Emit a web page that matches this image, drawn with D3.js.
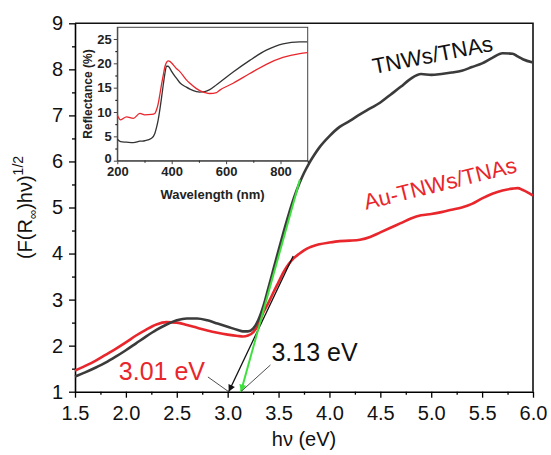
<!DOCTYPE html>
<html>
<head>
<meta charset="utf-8">
<script src="https://cdn.jsdelivr.net/npm/d3@7"></script>
<style>
  body { margin: 0; background: #fff; }
  svg { display: block; font-family: "Liberation Sans", Arial, sans-serif; }
</style>
</head>
<body>
<svg width="551" height="455"></svg>
<script>
// main plot: Tauc-style curves
const energy = [1.5, 1.6, 1.7, 1.8, 1.9, 2.0, 2.1, 2.2, 2.3, 2.4, 2.5, 2.6, 2.7, 2.8, 2.9, 3.0, 3.1, 3.15, 3.2, 3.25, 3.3,
  3.35, 3.4, 3.45, 3.5, 3.55, 3.6, 3.65, 3.7, 3.75, 3.8, 3.85, 3.9, 4.0, 4.1, 4.2, 4.3, 4.4, 4.5, 4.6, 4.7, 4.8,
  4.9, 5.0, 5.1, 5.2, 5.3, 5.4, 5.5, 5.6, 5.7, 5.8, 5.85, 5.9, 6.0];
const tnws = [1.33, 1.42, 1.52, 1.63, 1.76, 1.9, 2.05, 2.2, 2.34, 2.46, 2.55, 2.59, 2.59, 2.55, 2.48, 2.41, 2.34, 2.31, 2.31, 2.37, 2.55,
  2.85, 3.25, 3.66, 4.07, 4.47, 4.85, 5.2, 5.5, 5.75, 5.96, 6.14, 6.3, 6.55, 6.75, 6.88, 7.02, 7.15, 7.28, 7.45, 7.62, 7.8,
  7.9, 7.88, 7.9, 7.93, 7.97, 8.05, 8.13, 8.25, 8.35, 8.34, 8.28, 8.22, 8.15];
const auTnws = [1.46, 1.56, 1.67, 1.8, 1.93, 2.07, 2.22, 2.35, 2.46, 2.51, 2.5, 2.45, 2.39, 2.33, 2.28, 2.24, 2.21, 2.2, 2.22, 2.29, 2.45,
  2.72, 2.93, 3.16, 3.38, 3.6, 3.77, 3.9, 3.99, 4.07, 4.13, 4.17, 4.2, 4.24, 4.27, 4.28, 4.3, 4.36, 4.46, 4.56, 4.66, 4.76,
  4.83, 4.86, 4.9, 4.95, 5.0, 5.08, 5.2, 5.3, 5.37, 5.41, 5.42, 5.38, 5.26];

// tangent fits [x, y] ends, band gaps
const tangentTnws = [[3.13, 1], [3.71, 5.61]];
const tangentAu = [[3.01, 1], [3.644, 3.947]];

const xTicks = [1.5, 2.0, 2.5, 3.0, 3.5, 4.0, 4.5, 5.0, 5.5, 6.0];
const yTicks = [1, 2, 3, 4, 5, 6, 7, 8, 9];

// inset: reflectance spectra
const wavelength = [200, 212, 234, 259, 283, 301, 326, 338, 344, 350, 357, 363, 369, 375, 381, 387, 393, 399, 418, 430,
  454, 467, 491, 503, 522, 540, 565, 577, 626, 687, 748, 809, 871, 898];
const reflTnws = [4.4, 3.9, 3.8, 3.7, 4.0, 4.1, 4.6, 5.6, 6.8, 8.3, 10.7, 13.1, 15.6, 17.9, 19.4, 19.4, 19.0, 18.4, 16.9, 16.0,
  15.1, 14.7, 14.2, 14.1, 14.2, 14.6, 15.6, 16.1, 18.2, 20.6, 22.7, 24.0, 24.4, 24.4];
const reflAu = [9.4, 8.4, 9.0, 8.7, 9.7, 9.4, 9.5, 9.7, 10.4, 11.6, 13.8, 15.8, 17.6, 19.3, 20.2, 20.5, 20.4, 20.1, 18.9, 18.3,
  16.6, 15.9, 14.8, 14.4, 14.0, 13.8, 14.0, 14.5, 15.9, 17.9, 19.8, 21.2, 22.0, 22.2];
const insetXTicks = [200, 400, 600, 800];
const insetYTicks = [0, 5, 10, 15, 20, 25];

const svg = d3.select("svg");
const black = "#3b3b3b";
const red = "#e8262b";
const green = "#3ee03e";

const x = d3.scaleLinear().domain([1.5, 6]).range([75, 533]);
const y = d3.scaleLinear().domain([1, 9]).range([391.7, 23.3]);

// minor ticks first, then major ticks with labels
const minorX = d3.range(1.75, 6, 0.5);
const minorY = d3.range(1.5, 9, 1);

svg.append("g")
  .attr("transform", `translate(0,${y(1)})`)
  .call(d3.axisBottom(x).tickValues(minorX).tickSize(3).tickFormat(""))
  .call(g => g.select(".domain").remove())
  .selectAll("line").attr("stroke-width", 1.3);

svg.append("g")
  .attr("transform", `translate(${x(1.5)},0)`)
  .call(d3.axisLeft(y).tickValues(minorY).tickSize(3).tickFormat(""))
  .call(g => g.select(".domain").remove())
  .selectAll("line").attr("stroke-width", 1.3);

const xAxis = svg.append("g")
  .attr("transform", `translate(0,${y(1)})`)
  .call(d3.axisBottom(x).tickValues(xTicks).tickSize(6).tickSizeOuter(0).tickPadding(8).tickFormat(d3.format(".1f")));
xAxis.selectAll("text").attr("font-size", 20).attr("fill", "#111").attr("font-family", "Liberation Sans, Arial, sans-serif");

const yAxis = svg.append("g")
  .attr("transform", `translate(${x(1.5)},0)`)
  .call(d3.axisLeft(y).tickValues(yTicks).tickSize(6).tickSizeOuter(0).tickPadding(6).tickFormat(d3.format("d")));
yAxis.selectAll("text").attr("font-size", 20).attr("fill", "#111").attr("font-family", "Liberation Sans, Arial, sans-serif");

[xAxis, yAxis].forEach(a => {
  a.selectAll("line").attr("stroke-width", 1.3);
  a.select(".domain").attr("stroke-width", 1.6);
});

// frame on top and right
svg.append("path")
  .attr("d", `M${x(1.5)},${y(9)}H${x(6)}V${y(1)}`)
  .attr("fill", "none")
  .attr("stroke", "#111")
  .attr("stroke-width", 1.6);

// axis titles
svg.append("text")
  .attr("x", (x(1.5) + x(6)) / 2)
  .attr("y", 446)
  .attr("text-anchor", "middle")
  .attr("font-size", 20)
  .attr("fill", "#111")
  .text("h\u03bd (eV)");

const yTitle = svg.append("text")
  .attr("transform", `translate(32,${(y(1) + y(9)) / 2}) rotate(-90)`)
  .attr("text-anchor", "middle")
  .attr("font-size", 20)
  .attr("fill", "#111");
yTitle.append("tspan").text("(F(R");
yTitle.append("tspan").attr("font-size", 13).attr("dy", 5).text("\u221e");
yTitle.append("tspan").attr("dy", -5).text(")h\u03bd)");
yTitle.append("tspan").attr("font-size", 14).attr("dy", -9).text("1/2");

// curves
const line = d3.line()
  .x(d => x(d[0]))
  .y(d => y(d[1]))
  .curve(d3.curveMonotoneX);

svg.append("path")
  .datum(energy.map((e, i) => [e, auTnws[i]]))
  .attr("d", line)
  .attr("fill", "none")
  .attr("stroke", red)
  .attr("stroke-width", 2.6);

svg.append("path")
  .datum(energy.map((e, i) => [e, tnws[i]]))
  .attr("d", line)
  .attr("fill", "none")
  .attr("stroke", black)
  .attr("stroke-width", 2.6);

// arrowheads
const defs = svg.append("defs");
[["arrow-black", "#111"], ["arrow-green", green]].forEach(([id, c]) => {
  defs.append("marker")
    .attr("id", id)
    .attr("viewBox", "0 0 10 10")
    .attr("refX", 10)
    .attr("refY", 5)
    .attr("markerWidth", 9)
    .attr("markerHeight", 7)
    .attr("markerUnits", "userSpaceOnUse")
    .attr("orient", "auto-start-reverse")
    .append("path")
    .attr("d", "M0,0L10,5L0,10Z")
    .attr("fill", c);
});

const straight = d3.line().x(d => x(d[0])).y(d => y(d[1]));

svg.append("path")
  .attr("d", straight(tangentAu))
  .attr("stroke", "#111")
  .attr("stroke-width", 1.3)
  .attr("fill", "none")
  .attr("marker-start", "url(#arrow-black)");

svg.append("path")
  .attr("d", straight(tangentTnws))
  .attr("stroke", green)
  .attr("stroke-width", 2)
  .attr("fill", "none")
  .attr("marker-start", "url(#arrow-green)");

// band gap labels with leader lines
svg.append("path")
  .attr("d", straight([[2.806, 1.32], [tangentAu[0][0], 1]]))
  .attr("stroke", "#222").attr("stroke-width", 0.8).attr("fill", "none");
svg.append("path")
  .attr("d", straight([[3.42, 1.58], [tangentTnws[0][0], 1]]))
  .attr("stroke", "#222").attr("stroke-width", 0.8).attr("fill", "none");

svg.append("text")
  .attr("x", x(2.777)).attr("y", y(1.254))
  .attr("text-anchor", "end")
  .attr("font-size", 25)
  .attr("fill", red)
  .text("3.01 eV");

svg.append("text")
  .attr("x", x(3.43)).attr("y", y(1.673))
  .attr("font-size", 25)
  .attr("fill", "#111")
  .text("3.13 eV");

// series labels
svg.append("text")
  .attr("transform", `translate(${x(4.437)},${y(7.9)}) rotate(-11)`)
  .attr("font-size", 22)
  .attr("fill", "#111")
  .text("TNWs/TNAs");

svg.append("text")
  .attr("transform", `translate(${x(4.36)},${y(4.95)}) rotate(-14)`)
  .attr("font-size", 22)
  .attr("fill", red)
  .text("Au-TNWs/TNAs");

// inset
const ix = d3.scaleLinear().domain([200, 900]).range([117.3, 307.7]);
const iy = d3.scaleLinear().domain([0, 27.4]).range([160.7, 27.3]);

const inset = svg.append("g");
inset.append("rect")
  .attr("x", ix(200)).attr("y", iy(27.4))
  .attr("width", ix(900) - ix(200)).attr("height", iy(0) - iy(27.4))
  .attr("fill", "#fff")
  .attr("stroke", "#444")
  .attr("stroke-width", 1);

inset.append("g")
  .attr("transform", `translate(0,${iy(0)})`)
  .call(d3.axisBottom(ix).tickValues([300, 500, 700, 900]).tickSize(2).tickFormat(""))
  .call(g => g.select(".domain").remove());
inset.append("g")
  .attr("transform", `translate(${ix(200)},0)`)
  .call(d3.axisLeft(iy).tickValues(d3.range(2.5, 27.5, 5)).tickSize(2).tickFormat(""))
  .call(g => g.select(".domain").remove());

const ixAxis = inset.append("g")
  .attr("transform", `translate(0,${iy(0)})`)
  .call(d3.axisBottom(ix).tickValues(insetXTicks).tickSize(3.5).tickSizeOuter(0).tickPadding(3));
const iyAxis = inset.append("g")
  .attr("transform", `translate(${ix(200)},0)`)
  .call(d3.axisLeft(iy).tickValues(insetYTicks).tickSize(3.5).tickSizeOuter(0).tickPadding(2));
[ixAxis, iyAxis].forEach(a => {
  a.selectAll("text")
    .attr("font-size", 13)
    .attr("font-weight", "bold")
    .attr("fill", "#222")
    .attr("font-family", "Liberation Sans, Arial, sans-serif");
  a.select(".domain").attr("stroke", "#444");
  a.selectAll("line").attr("stroke", "#444");
});
// the "0" sits just above the corner so it clears the "200" below
iyAxis.selectAll(".tick text").filter(d => d === 0).attr("dy", "0.1em");

inset.append("text")
  .attr("x", (ix(200) + ix(900)) / 2)
  .attr("y", 199)
  .attr("text-anchor", "middle")
  .attr("font-size", 13)
  .attr("font-weight", "bold")
  .attr("fill", "#222")
  .text("Wavelength (nm)");

inset.append("text")
  .attr("transform", `translate(92,${(iy(0) + iy(27.4)) / 2}) rotate(-90)`)
  .attr("text-anchor", "middle")
  .attr("font-size", 12)
  .attr("font-weight", "bold")
  .attr("fill", "#222")
  .text("Reflectance (%)");

const iline = d3.line()
  .x(d => ix(d[0]))
  .y(d => iy(d[1]))
  .curve(d3.curveMonotoneX);

inset.append("path")
  .datum(wavelength.map((w, i) => [w, reflTnws[i]]))
  .attr("d", iline)
  .attr("fill", "none")
  .attr("stroke", "#333")
  .attr("stroke-width", 1.3);

inset.append("path")
  .datum(wavelength.map((w, i) => [w, reflAu[i]]))
  .attr("d", iline)
  .attr("fill", "none")
  .attr("stroke", red)
  .attr("stroke-width", 1.3);
</script>
</body>
</html>
